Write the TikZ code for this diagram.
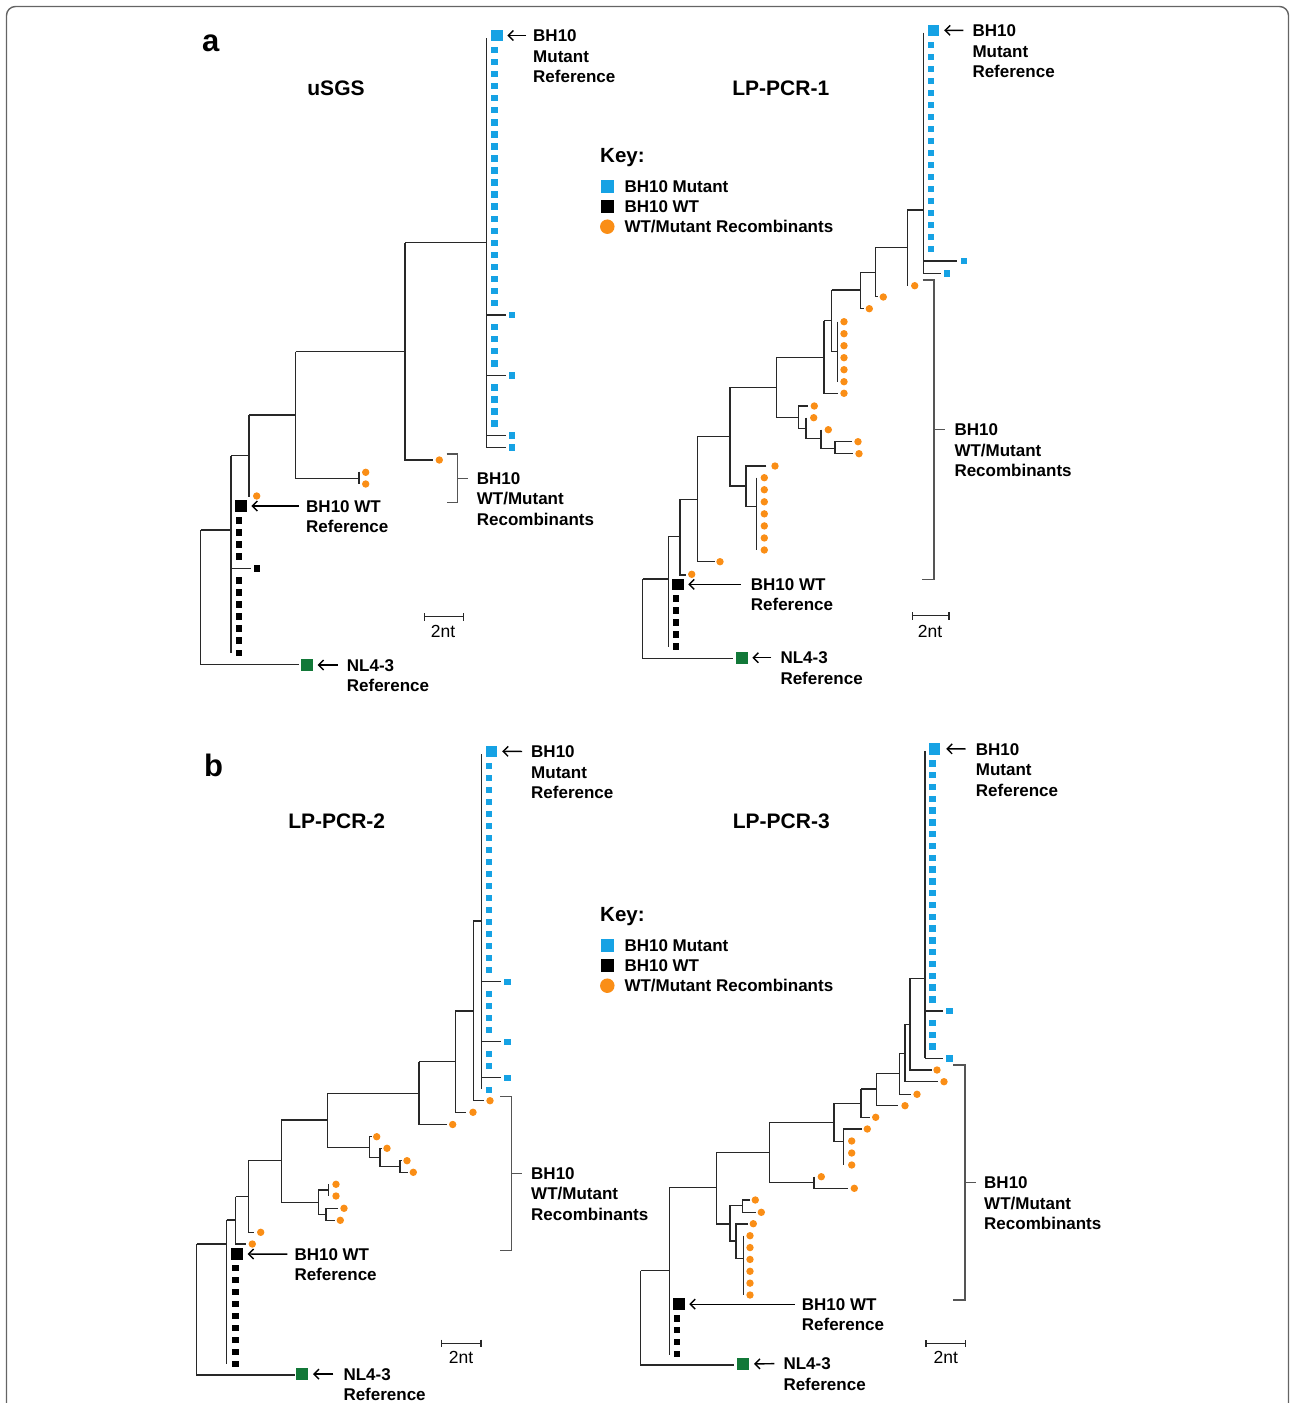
\documentclass[tikz,border=0pt]{standalone}
\usepackage{fontspec}
\setmainfont{Liberation Sans}
\usetikzlibrary{arrows.meta}
\definecolor{mblue}{RGB}{22,162,228}
\definecolor{morange}{RGB}{250,142,22}
\definecolor{mgreen}{RGB}{18,120,56}
\definecolor{brc}{RGB}{40,40,40}
\definecolor{bkt}{RGB}{85,85,85}
\definecolor{framec}{RGB}{100,100,100}
\newcommand\tbsq[2]{\fill[mblue] ({#1-3.2},{#2-3.2}) rectangle ++(6.4,6.4);}
\newcommand\tksq[2]{\fill[black] ({#1-3.2},{#2-3.2}) rectangle ++(6.4,6.4);}
\newcommand\todot{}
\renewcommand\todot[2]{\fill[morange] ({#1},{#2}) circle[radius=3.7];}
\begin{document}
\begin{tikzpicture}[x=1pt,y=-1pt,
  br/.style={draw=brc,line width=1.5pt},
  bkline/.style={draw=bkt,line width=1.5pt},
  lab/.style={font=\bfseries\fontsize{17}{20}\selectfont,inner sep=0pt,text height=12.3pt,text depth=0pt,anchor=west},
  ttl/.style={font=\bfseries\fontsize{21}{24}\selectfont,inner sep=0pt,text height=15pt,text depth=0pt,anchor=center},
  sclab/.style={font=\fontsize{17.5}{20}\selectfont,inner sep=0pt,text height=12.3pt,text depth=0pt,anchor=center},
  panel/.style={font=\bfseries\fontsize{31}{33}\selectfont,inner sep=0pt,anchor=base west},
  keyt/.style={font=\bfseries\fontsize{20.5}{22}\selectfont,inner sep=0pt,anchor=base west},
  bigb/.style={rectangle,fill=mblue,minimum size=11.5pt,inner sep=0pt},
  bigk/.style={rectangle,fill=black,minimum size=11.5pt,inner sep=0pt},
  bigg/.style={rectangle,fill=mgreen,minimum size=12pt,inner sep=0pt},
  keyb/.style={rectangle,fill=mblue,minimum size=13pt,inner sep=0pt},
  keyk/.style={rectangle,fill=black,minimum size=13pt,inner sep=0pt},
  keyo/.style={circle,fill=morange,minimum size=14.5pt,inner sep=0pt},
  arr/.style={draw=black,line width=1.4pt,-{Straight Barb[length=5pt,width=10pt,line width=1.4pt]},shorten <=7pt,shorten >=4.5pt}
]
\useasboundingbox (0,0) rectangle (1290,1403);
\draw[framec,line width=1.4pt,rounded corners=9pt] (6.5,1410) -- (6.5,6.5) -- (1288.5,6.5) -- (1288.5,1410);

% ================= panel a ==================
\node[panel] (pa) at (202,51.7) {a};
\node[ttl] (t1) at (336,88.3) {uSGS};
\node[ttl] (t2) at (780.8,88.3) {LP-PCR-1};

% key a
\node[keyt] (ka) at (600,162.7) {Key:};
\node[keyb] (ka1) at (607.7,186.7) {};
\node[keyk] (ka2) at (607.7,206.7) {};
\node[keyo] (ka3) at (607.3,226.7) {};
\node[lab] (kat1) at (624.3,186.7) {BH10 Mutant};
\node[lab] (kat2) at (624.3,206.7) {BH10 WT};
\node[lab] (kat3) at (624.3,226.7) {WT/Mutant Recombinants};

% ---------- uSGS tree ----------
\draw[br] (486.7,38) -- (486.7,447.7);
\foreach \i in {0,...,21,23,24,25,26,28,29,30,31} {\tbsq{494.5}{50+12.05*\i}}
\foreach \i in {22,27,32,33} {\draw[br] (486.7,50+12.05*\i) -- (506,50+12.05*\i); \tbsq{512}{50+12.05*\i}}
\node[bigb] (umref) at (497,35.5) {};
\draw[br] (405,242.7) -- (486.7,242.7);
\draw[br] (405,242.7) -- (405,460) -- (433,460);
\todot{439.3}{460}
\draw[br] (295.7,351.7) -- (405,351.7);
\draw[br] (295.7,351.7) -- (295.7,478.3) -- (359,478.3);
\draw[br] (359,471.7) -- (359,484);
\todot{365.7}{472.3}
\todot{365.7}{484}
\draw[br] (249,415) -- (295.7,415);
\draw[br] (249,415) -- (249,496.5);
\todot{256.7}{496}
\draw[br] (231,455.7) -- (249,455.7);
\draw[br] (231,455.7) -- (231,653);
\foreach \y in {520.3,532.3,544.3,556.3,580.3,592.3,604.3,616.3,628.3,640.5,652.7} {\tksq{238.7}{\y}}
\draw[br] (231,568.3) -- (251,568.3);
\tksq{256.7}{568.3}
\node[bigk] (uwref) at (241,506) {};
\draw[br] (200.7,530) -- (231,530);
\draw[br] (200.7,530) -- (200.7,664.3) -- (299,664.3);
\node[bigg] (unref) at (307,665) {};
% labels uSGS
\node[lab] (uml1) at (533,35.5) {BH10};
\node[lab] (uml2) at (533,56) {Mutant};
\node[lab] (uml3) at (533,76.5) {Reference};
\draw[arr] (uml1.west) -- (umref.east);
\node[lab] (uwl1) at (306,506) {BH10 WT};
\node[lab] (uwl2) at (306,526.5) {Reference};
\draw[arr] (uwl1.west) -- (uwref.east);
\node[lab] (unl1) at (346.7,665) {NL4-3};
\node[lab] (unl2) at (346.7,685.5) {Reference};
\draw[arr,shorten <=9pt] (unl1.west) -- (unref.east);
\draw[bkline] (446.7,454) -- (457.7,454) -- (457.7,502.3) -- (446.7,502.3);
\draw[bkline] (457.7,478.3) -- (468.3,478.3);
\node[lab] (url1) at (476.7,478.3) {BH10};
\node[lab] (url2) at (476.7,498.8) {WT/Mutant};
\node[lab] (url3) at (476.7,519.3) {Recombinants};
\draw[br] (424.3,616.7) -- (463.7,616.7);
\draw[br] (424.3,613) -- (424.3,620.5);
\draw[br] (463.7,613) -- (463.7,620.5);
\node[sclab] (usc) at (443,631.5) {2nt};

% ---------- LP-PCR-1 tree ----------
\draw[br] (923.3,32.7) -- (923.3,274);
\foreach \i in {0,...,17} {\tbsq{931}{44.7+12*\i}}
\draw[br] (923.3,261) -- (956.7,261);
\tbsq{963.7}{261}
\draw[br] (923.3,273.3) -- (940.7,273.3);
\tbsq{947}{273.3}
\node[bigb] (amref) at (933.7,30.3) {};
\draw[br] (907.3,210) -- (923.3,210);
\draw[br] (907.3,210) -- (907.3,285.7);
\todot{914.7}{285.7}
\draw[br] (875.3,247.7) -- (907.3,247.7);
\draw[br] (875.3,247.7) -- (875.3,296.7) -- (878,296.7);
\todot{883.3}{297}
\draw[br] (860.3,272.7) -- (875.3,272.7);
\draw[br] (860.3,272.7) -- (860.3,308.7) -- (864,308.7);
\todot{869.3}{308.7}
\draw[br] (831.7,290) -- (860.3,290);
\draw[br] (831.7,290) -- (831.7,351.7) -- (837.5,351.7);
\draw[br] (837.5,321.7) -- (837.5,381.5);
\foreach \i in {0,...,5} {\todot{844}{321.7+12*\i}}
\draw[br] (824,320.7) -- (831.7,320.7);
\draw[br] (824,320.7) -- (824,393.3) -- (838,393.3);
\todot{844}{393.3}
\draw[br] (776.7,357.3) -- (824,357.3);
\draw[br] (776.7,357.3) -- (776.7,417.3) -- (798.3,417.3);
\draw[br] (798.3,406) -- (798.3,428.3) -- (806,428.3);
\draw[br] (798.3,406) -- (808,406);
\todot{814.3}{406}
\draw[br] (806,417.7) -- (806,438.3) -- (821,438.3);
\todot{813.7}{417.7}
\draw[br] (821,429.7) -- (821,448.3) -- (835,448.3);
\todot{828.3}{429.7}
\draw[br] (852,441.7) -- (835,441.7) -- (835,453.7) -- (853,453.7);
\todot{858}{441.7}
\todot{859}{453.7}
\draw[br] (730,387.3) -- (776.7,387.3);
\draw[br] (730,387.3) -- (730,486) -- (746,486);
\draw[br] (766.3,466) -- (746,466) -- (746,506.7) -- (756.7,506.7);
\todot{775}{466}
\draw[br] (756.7,477.7) -- (756.7,550);
\foreach \i in {0,...,6} {\todot{764.3}{477.7+12.05*\i}}
\draw[br] (697.3,436.7) -- (730,436.7);
\draw[br] (697.3,436.7) -- (697.3,561.7) -- (715,561.7);
\todot{720}{561.7}
\draw[br] (680,499.3) -- (697.3,499.3);
\draw[br] (680,499.3) -- (680,575) -- (686,575);
\todot{691.7}{574.3}
\draw[br] (668.3,536.7) -- (680,536.7);
\draw[br] (668.3,536.7) -- (668.3,646.7);
\foreach \i in {0,...,4} {\tksq{675.7}{598.3+12*\i}}
\node[bigk] (awref) at (677.8,584.3) {};
\draw[br] (642.7,579) -- (668.3,579);
\draw[br] (642.7,579) -- (642.7,658.3) -- (733.3,658.3);
\node[bigg] (anref) at (741.7,657.7) {};
\node[lab] (aml1) at (972.3,30.5) {BH10};
\node[lab] (aml2) at (972.3,51) {Mutant};
\node[lab] (aml3) at (972.3,71.5) {Reference};
\draw[arr,shorten <=9pt] (aml1.west) -- (amref.east);
\node[lab] (awl1) at (750.7,584.3) {BH10 WT};
\node[lab] (awl2) at (750.7,604.8) {Reference};
\draw[arr,shorten <=10pt] (awl1.west) -- (awref.east);
\node[lab] (anl1) at (780.3,657.7) {NL4-3};
\node[lab] (anl2) at (780.3,678.2) {Reference};
\draw[arr,shorten <=9pt] (anl1.west) -- (anref.east);
\draw[bkline] (922.7,280) -- (934,280) -- (934,579.3) -- (921.7,579.3);
\draw[bkline] (934,429.7) -- (945,429.7);
\node[lab] (arl1) at (954.3,429.7) {BH10};
\node[lab] (arl2) at (954.3,450.2) {WT/Mutant};
\node[lab] (arl3) at (954.3,470.7) {Recombinants};
\draw[br] (912.7,615.7) -- (949,615.7);
\draw[br] (912.7,612) -- (912.7,619.5);
\draw[br] (949,612) -- (949,619.5);
\node[sclab] (asc) at (930,631.7) {2nt};

% ================= panel b ==================
\node[panel] (pb) at (204,776) {b};
\node[ttl] (t3) at (336.7,821) {LP-PCR-2};
\node[ttl] (t4) at (781.3,821) {LP-PCR-3};
\node[keyt] (kb) at (600,921.7) {Key:};
\node[keyb] (kb1) at (607.7,945.7) {};
\node[keyk] (kb2) at (607.7,965.7) {};
\node[keyo] (kb3) at (607.3,985.7) {};
\node[lab] (kbt1) at (624.3,945.7) {BH10 Mutant};
\node[lab] (kbt2) at (624.3,965.7) {BH10 WT};
\node[lab] (kbt3) at (624.3,985.7) {WT/Mutant Recombinants};

% ---------- LP-PCR-2 tree ----------
\draw[br] (481.7,754) -- (481.7,1089.3);
\foreach \i in {0,...,17,19,20,21,22,24,25,27} {\tbsq{489}{765.7+12*\i}}
\foreach \i in {18,23,26} {\draw[br] (481.7,765.7+12*\i) -- (500.7,765.7+12*\i); \tbsq{507.3}{765.7+12*\i}}
\node[bigb] (bmref) at (491.7,751.3) {};
\draw[br] (473.3,921) -- (481.7,921);
\draw[br] (473.3,921) -- (473.3,1100.7) -- (484,1100.7);
\todot{490}{1100.7}
\draw[br] (455.3,1011) -- (473.3,1011);
\draw[br] (455.3,1011) -- (455.3,1112.3) -- (466,1112.3);
\todot{473}{1112.3}
\draw[br] (419,1061.7) -- (455.3,1061.7);
\draw[br] (419,1061.7) -- (419,1124.5) -- (446.7,1124.5);
\todot{452.7}{1124.5}
\draw[br] (327.3,1093.3) -- (419,1093.3);
\draw[br] (327.3,1093.3) -- (327.3,1147.3) -- (369.3,1147.3);
\draw[br] (372,1136.7) -- (369.3,1136.7) -- (369.3,1157.7) -- (380,1157.7);
\todot{376.7}{1136.7}
\draw[br] (382,1148.3) -- (380,1148.3) -- (380,1166.7) -- (400,1166.7);
\todot{387}{1148.3}
\draw[br] (402,1160.7) -- (400,1160.7) -- (400,1172.3) -- (408,1172.3);
\todot{407}{1160.7}
\todot{413.3}{1172.3}
\draw[br] (281.3,1120) -- (327.3,1120);
\draw[br] (281.3,1120) -- (281.3,1202.3) -- (318.3,1202.3);
\draw[br] (328.3,1190) -- (318.3,1190) -- (318.3,1214.3) -- (326,1214.3);
\draw[br] (328.3,1184.3) -- (328.3,1196);
\todot{336}{1184.3}
\todot{336}{1196}
\draw[br] (338,1208.3) -- (326,1208.3) -- (326,1220.3) -- (335,1220.3);
\todot{344}{1208.3}
\todot{340.3}{1220.3}
\draw[br] (248.3,1160.7) -- (281.3,1160.7);
\draw[br] (248.3,1160.7) -- (248.3,1232.3) -- (254,1232.3);
\todot{260.7}{1232.3}
\draw[br] (235.7,1196.7) -- (248.3,1196.7);
\draw[br] (235.7,1196.7) -- (235.7,1244) -- (246,1244);
\todot{252.3}{1244}
\draw[br] (226.7,1220) -- (235.7,1220);
\draw[br] (226.7,1220) -- (226.7,1364);
\foreach \i in {0,...,8} {\tksq{235.3}{1268+12*\i}}
\node[bigk] (cwref) at (237.2,1254) {};
\draw[br] (196.7,1244) -- (226.7,1244);
\draw[br] (196.7,1244) -- (196.7,1375) -- (295,1375);
\node[bigg] (cnref) at (302.3,1374) {};
\node[lab] (cml1) at (531,751.5) {BH10};
\node[lab] (cml2) at (531,772) {Mutant};
\node[lab] (cml3) at (531,792.5) {Reference};
\draw[arr,shorten <=9pt] (cml1.west) -- (bmref.east);
\node[lab] (cwl1) at (294.3,1254.2) {BH10 WT};
\node[lab] (cwl2) at (294.3,1274.7) {Reference};
\draw[arr] (cwl1.west) -- (cwref.east);
\node[lab] (cnl1) at (343.3,1374) {NL4-3};
\node[lab] (cnl2) at (343.3,1394.5) {Reference};
\draw[arr,shorten <=10pt] (cnl1.west) -- (cnref.east);
\draw[bkline] (500,1096.7) -- (511.7,1096.7) -- (511.7,1250.7) -- (500,1250.7);
\draw[bkline] (511.7,1173.3) -- (522.3,1173.3);
\node[lab] (crl1) at (531,1173.3) {BH10};
\node[lab] (crl2) at (531,1193.8) {WT/Mutant};
\node[lab] (crl3) at (531,1214.3) {Recombinants};
\draw[br] (441.7,1343.3) -- (481,1343.3);
\draw[br] (441.7,1339.6) -- (441.7,1347);
\draw[br] (481,1339.6) -- (481,1347);
\node[sclab] (csc) at (461,1357.5) {2nt};

% ---------- LP-PCR-3 tree ----------
\draw[br] (925,751) -- (925,1058.3);
\foreach \i in {0,...,20,22,23,24} {\tbsq{932.3}{763.3+11.8*\i}}
\foreach \i in {21,25} {\draw[br] (925,763.3+11.8*\i) -- (943.3,763.3+11.8*\i); \tbsq{949.3}{763.3+11.8*\i}}
\node[bigb] (dmref) at (934.7,748.8) {};
\draw[br] (910,978.3) -- (925,978.3);
\draw[br] (910,978.3) -- (910,1070) -- (931.7,1070);
\todot{937}{1070}
\draw[br] (905,1024.3) -- (910,1024.3);
\draw[br] (905,1024.3) -- (905,1081.7) -- (938.3,1081.7);
\todot{944}{1081.7}
\draw[br] (899.3,1053.3) -- (905,1053.3);
\draw[br] (899.3,1053.3) -- (899.3,1094.3) -- (910.7,1094.3);
\todot{917}{1094.3}
\draw[br] (876.7,1073.3) -- (899.3,1073.3);
\draw[br] (876.7,1073.3) -- (876.7,1105.7) -- (898.3,1105.7);
\todot{905}{1105.7}
\draw[br] (861,1089) -- (876.7,1089);
\draw[br] (861,1089) -- (861,1117.3) -- (870,1117.3);
\todot{875.7}{1117.3}
\draw[br] (834,1103.3) -- (861,1103.3);
\draw[br] (834,1103.3) -- (834,1141.7) -- (843.3,1141.7);
\draw[br] (861.7,1129) -- (843.3,1129) -- (843.3,1165);
\todot{867.3}{1129}
\foreach \y in {1141,1153,1165} {\todot{851.7}{\y}}
\draw[br] (769.3,1122.3) -- (834,1122.3);
\draw[br] (769.3,1122.3) -- (769.3,1182.3) -- (814,1182.3);
\draw[br] (814,1176.7) -- (814,1188.3) -- (848.3,1188.3);
\todot{821.3}{1176.7}
\todot{854.3}{1188.3}
\draw[br] (716.7,1152.3) -- (769.3,1152.3);
\draw[br] (716.7,1152.3) -- (716.7,1224) -- (730,1224);
\draw[br] (742.7,1205.7) -- (730,1205.7) -- (730,1241) -- (736,1241);
\draw[br] (750,1200) -- (742.7,1200) -- (742.7,1212.3) -- (756,1212.3);
\todot{755.3}{1200}
\todot{761.3}{1212.3}
\draw[br] (748,1224) -- (736,1224) -- (736,1258.3) -- (743.3,1258.3);
\todot{753.3}{1223.7}
\draw[br] (743.3,1235.7) -- (743.3,1295);
\foreach \i in {0,...,5} {\todot{750}{1235.7+11.86*\i}}
\draw[br] (669.3,1187.3) -- (716.7,1187.3);
\draw[br] (669.3,1187.3) -- (669.3,1355);
\foreach \i in {0,...,3} {\tksq{676.7}{1318.3+11.8*\i}}
\node[bigk] (dwref) at (678.8,1304.2) {};
\draw[br] (640.7,1270.7) -- (669.3,1270.7);
\draw[br] (640.7,1270.7) -- (640.7,1365) -- (734.3,1365);
\node[bigg] (dnref) at (743.3,1364) {};
\node[lab] (dml1) at (975.7,749) {BH10};
\node[lab] (dml2) at (975.7,769.5) {Mutant};
\node[lab] (dml3) at (975.7,790) {Reference};
\draw[arr,shorten <=10pt,shorten >=5.5pt] (dml1.west) -- (dmref.east);
\node[lab] (dwl1) at (801.7,1304.2) {BH10 WT};
\node[lab] (dwl2) at (801.7,1324.7) {Reference};
\draw[arr] (dwl1.west) -- (dwref.east);
\node[lab] (dnl1) at (783.3,1363.5) {NL4-3};
\node[lab] (dnl2) at (783.3,1384) {Reference};
\draw[arr,shorten <=9pt] (dnl1.west) -- (dnref.east);
\draw[bkline] (953.3,1065) -- (965,1065) -- (965,1300) -- (953.3,1300);
\draw[bkline] (965,1182.7) -- (976,1182.7);
\node[lab] (drl1) at (984,1182.7) {BH10};
\node[lab] (drl2) at (984,1203.2) {WT/Mutant};
\node[lab] (drl3) at (984,1223.7) {Recombinants};
\draw[br] (926,1343.7) -- (965.7,1343.7);
\draw[br] (926,1340) -- (926,1347.4);
\draw[br] (965.7,1340) -- (965.7,1347.4);
\node[sclab] (dsc) at (945.7,1357.5) {2nt};
\end{tikzpicture}
\end{document}
